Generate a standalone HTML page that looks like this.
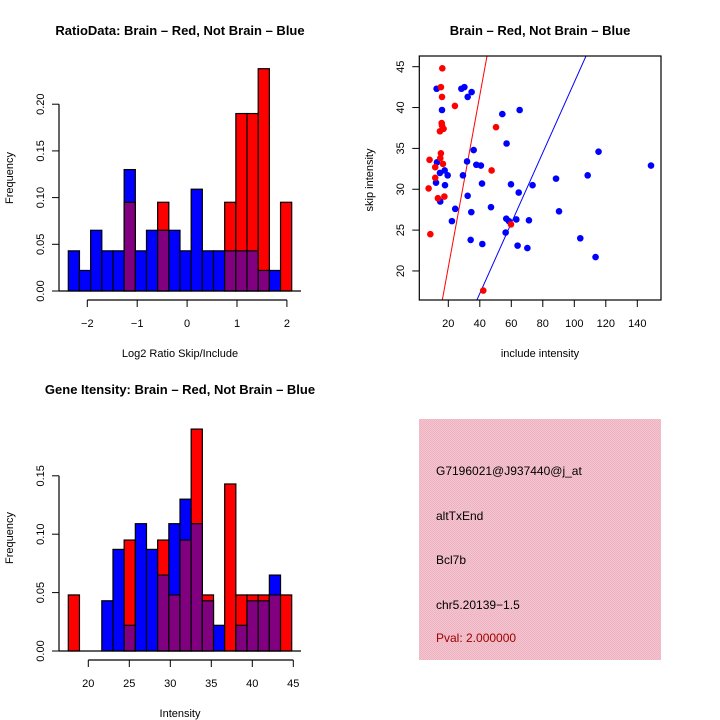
<!DOCTYPE html>
<html><head><meta charset="utf-8"><style>
html,body{margin:0;padding:0;background:#fff}
svg{display:block;font-family:"Liberation Sans",sans-serif}
</style></head><body>
<svg id="c" width="720" height="720" viewBox="0 0 720 720">
<defs><pattern id="hatch" width="2" height="2" patternUnits="userSpaceOnUse"><rect width="2" height="2" fill="#f7c3cf"/><rect width="1" height="1" fill="#eab4c2"/><rect x="1" y="1" width="1" height="1" fill="#eab4c2"/></pattern></defs>
<g id="g1"></g>
<g id="g2"></g>
<g id="g3"></g>
<g>
<rect x="419" y="419" width="242" height="241" fill="url(#hatch)"/>
<text x="436" y="475" font-size="12">G7196021@J937440@j_at</text>
<text x="436" y="520" font-size="12">altTxEnd</text>
<text x="436" y="564" font-size="12">Bcl7b</text>
<text x="436" y="609" font-size="12">chr5.20139−1.5</text>
<text x="436" y="642" font-size="12" fill="#a00000">Pval: 2.000000</text>
</g>
</svg>
<script>
// Ratio histogram data
const ratioBlue = [0.043,0.022,0.065,0.043,0.043,0.13,0.043,0.065,0.065,0.065,0.043,0.109,0.043,0.043,0.043,0.043,0.043,0.022,0.022,0];
const ratioRed  = [0,0,0,0,0,0.095,0,0,0.095,0,0,0,0,0,0.095,0.19,0.19,0.238,0,0.095];
const ratioYTicks = [0,0.05,0.10,0.15,0.20];
const ratioXTicks = [-2,-1,0,1,2];
// Intensity histogram data
const intBlue = [0,0,0,0.043,0.087,0.022,0.109,0.087,0.065,0.109,0.13,0.109,0.043,0.022,0,0.022,0.043,0.043,0.065,0];
const intRed  = [0.048,0,0,0,0,0.095,0,0,0.095,0.048,0.095,0.19,0.048,0,0.143,0.048,0.048,0.048,0.048,0.048];
const intYTicks = [0,0.05,0.10,0.15];
const intXTicks = [20,25,30,35,40,45];
// Scatter data [include, skip]
const redPts = [[16.2,44.8],[15.3,42.5],[16,41.3],[24.2,40.2],[15.8,38.1],[16,37.8],[14.7,37.1],[17,37.4],[50.3,37.6],[15.3,34.4],[14.9,33.8],[8.1,33.6],[16.6,33.1],[11.7,32.7],[47.5,32.3],[11.7,31.4],[7.5,30.1],[13.4,28.9],[17.5,29.1],[8.6,24.5],[59.8,25.7],[42.2,17.6]];
const bluePts = [[12.6,42.3],[28.3,42.3],[30.2,42.5],[34.8,41.9],[32.3,41.3],[16,39.7],[54.3,39.2],[65.3,39.7],[57,35.6],[36.1,34.8],[31.9,33.4],[12.8,33.3],[37.8,33.0],[40.7,32.9],[14.7,32.0],[17.7,32.3],[19.6,31.7],[29.3,31.7],[12.2,30.8],[17.9,30.5],[41.4,30.7],[59.8,30.6],[73.5,30.5],[64.7,29.6],[32.3,29.2],[14.9,28.5],[24.4,27.6],[34.6,27.2],[47.1,27.8],[22.3,26.1],[56.8,26.4],[58.5,26.1],[63.2,26.3],[71.2,26.2],[56.4,24.7],[34.2,23.8],[41.6,23.3],[64,23.1],[70.2,22.8],[88.4,31.3],[90.3,27.3],[108.5,31.7],[115.4,34.6],[148.7,32.9],[103.8,24.0],[113.5,21.7]];
const redLine = [-0.59,1.052];
const blueLine = [0.0,0.431];
const scX = [20,40,60,80,100,120,140];
const scY = [20,25,30,35,40,45];

const NS="http://www.w3.org/2000/svg";
function mk(p,tag,a){const e=document.createElementNS(NS,tag);for(const k in a)e.setAttribute(k,a[k]);p.appendChild(e);return e;}

function hist(g,blue,red,yTicks,xTicks,o){
  const ys=v=>o.y0-v*o.py, xb=i=>o.x0+i*o.bw, xs=v=>o.ax0+(v-o.xv0)*o.pu;
  blue.forEach((b,i)=>{
    const r=red[i], mx=Math.max(b,r), mn=Math.min(b,r);
    if(mx>0){const e=mk(g,'rect',{x:xb(i),y:ys(mx),width:o.bw,height:mx*o.py,fill:r>=b?'#ff0000':'#0000ff',stroke:'#000','stroke-width':1.2});
      
      }
    if(mn>0){const e=mk(g,'rect',{x:xb(i),y:ys(mn),width:o.bw,height:mn*o.py,fill:'#800080',stroke:'#000','stroke-width':1.2});
      
      }
  });
  mk(g,'line',{x1:59,x2:301,y1:o.y0,y2:o.y0,stroke:'#000','stroke-width':1.2});
  const ya=mk(g,'line',{x1:59,x2:59,y1:ys(yTicks[0]),y2:ys(yTicks[yTicks.length-1]),stroke:'#000','stroke-width':1.2});
  
  
  yTicks.forEach(t=>{mk(g,'line',{x1:52,x2:59,y1:ys(t),y2:ys(t),stroke:'#000'});
    const tx=mk(g,'text',{x:0,y:0,'font-size':11,'text-anchor':'middle',transform:`translate(44 ${ys(t)}) rotate(-90)`});tx.textContent=t.toFixed(2);
    
    });
  const xa=mk(g,'line',{x1:xs(xTicks[0]),x2:xs(xTicks[xTicks.length-1]),y1:o.ay,y2:o.ay,stroke:'#000','stroke-width':1.2});
  
  
  xTicks.forEach(t=>{mk(g,'line',{x1:xs(t),x2:xs(t),y1:o.ay,y2:o.ay+7,stroke:'#000'});
    const tx=mk(g,'text',{x:xs(t),y:o.ay+27,'font-size':11,'text-anchor':'middle'});tx.textContent=String(t).replace('-','−');
    
    });
  let t=mk(g,'text',{x:180,y:o.ty,'font-size':13,'font-weight':'bold','text-anchor':'middle'});t.textContent=o.title;
  
  
  t=mk(g,'text',{x:180,y:o.xly,'font-size':11,'text-anchor':'middle'});t.textContent=o.xl;
  
  
  t=mk(g,'text',{x:0,y:0,'font-size':11,'text-anchor':'middle',transform:`translate(13 ${o.yly}) rotate(-90)`});t.textContent='Frequency';
  
  
}
hist(document.getElementById('g1'),ratioBlue,ratioRed,ratioYTicks,ratioXTicks,
 {x0:68.3,bw:11.17,y0:291,py:934,ax0:87.3,xv0:-2,pu:49.9,ay:300,ty:35,xly:357,yly:178,title:'RatioData: Brain – Red, Not Brain – Blue',xl:'Log2 Ratio Skip/Include'});
hist(document.getElementById('g3'),intBlue,intRed,intYTicks,intXTicks,
 {x0:68.3,bw:11.17,y0:651,py:1168,ax0:88.3,xv0:20,pu:8.2,ay:660,ty:394,xly:717,yly:538,title:'Gene Itensity: Brain – Red, Not Brain – Blue',xl:'Intensity'});

// scatter
(function(){
  const g=document.getElementById('g2');
  const L=419.3,R=661,T=56,B=300;
  const xs=v=>448.3+(v-20)*1.575, ys=v=>66.7+(45-v)*8.17;
  const cp=mk(g,'clipPath',{id:'cp'});mk(cp,'rect',{x:L,y:T,width:R-L,height:B-T});
  const gl=mk(g,'g',{'clip-path':'url(#cp)'});
  [[redLine,'#ff0000','red-fit-line'],[blueLine,'#0000ff','blue-fit-line']].forEach(([ln,c,n])=>{
    const y1=10,y2=50;
    const e=mk(gl,'line',{x1:xs((y1-ln[0])/ln[1]),y1:ys(y1),x2:xs((y2-ln[0])/ln[1]),y2:ys(y2),stroke:c,'stroke-width':1});
    
    
  });
  [[bluePts,'#0000ff','blue-point'],[redPts,'#ff0000','red-point']].forEach(([pts,c,n])=>pts.forEach(p=>{
    const e=mk(g,'circle',{cx:xs(p[0]),cy:ys(p[1]),r:3.3,fill:c});
    
    
  }));
  const bx=mk(g,'rect',{x:L,y:T,width:R-L,height:B-T,fill:'none',stroke:'#000','stroke-width':1.2});
  
  
  scX.forEach(t=>{mk(g,'line',{x1:xs(t),x2:xs(t),y1:B,y2:B+7,stroke:'#000'});
    const tx=mk(g,'text',{x:xs(t),y:B+27,'font-size':11,'text-anchor':'middle'});tx.textContent=t;
    
    });
  scY.forEach(t=>{mk(g,'line',{x1:L-7,x2:L,y1:ys(t),y2:ys(t),stroke:'#000'});
    const tx=mk(g,'text',{x:0,y:0,'font-size':11,'text-anchor':'middle',transform:`translate(404 ${ys(t)}) rotate(-90)`});tx.textContent=t;
    
    });
  let t=mk(g,'text',{x:540,y:35,'font-size':13,'font-weight':'bold','text-anchor':'middle'});t.textContent='Brain – Red, Not Brain – Blue';
  
  
  t=mk(g,'text',{x:540,y:357,'font-size':11,'text-anchor':'middle'});t.textContent='include intensity';
  
  
  t=mk(g,'text',{x:0,y:0,'font-size':11,'text-anchor':'middle',transform:'translate(373 180) rotate(-90)'});t.textContent='skip intensity';
  
  
})();
</script>
</body></html>
